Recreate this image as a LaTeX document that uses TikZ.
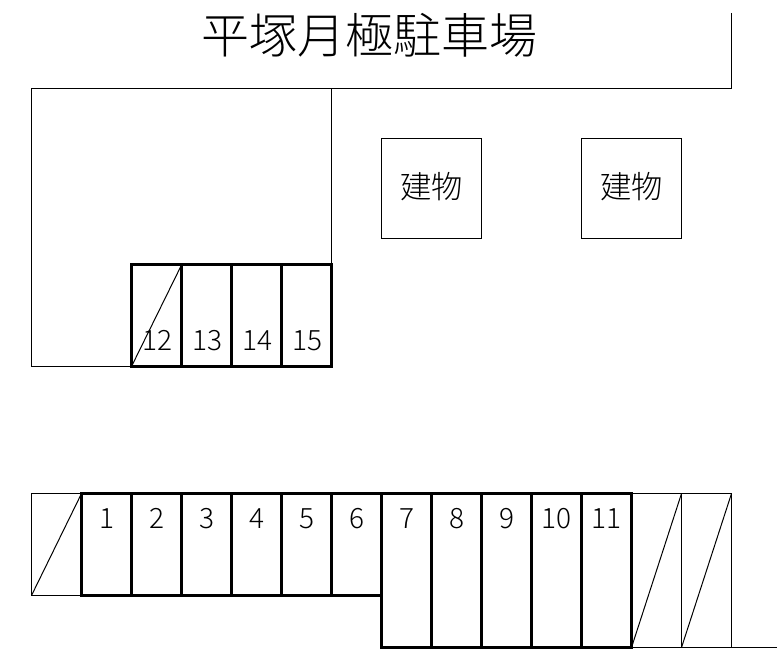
\documentclass[tikz,border=0pt]{standalone}
\usepackage{fontspec}
\setmainfont{Noto Sans CJK JP Light}
\begin{document}
\begin{tikzpicture}[x=0.75pt,y=-0.75pt,
  thin line/.style={draw=black,line width=0.75pt},
  thick line/.style={draw=black,line width=2.4pt},
  num/.style={font=\fontsize{21}{20}\selectfont\color{black},inner sep=0pt,anchor=base},
  bld/.style={font=\fontsize{23.5}{24}\selectfont\color{black},inner sep=0pt}]
\useasboundingbox (0,0) rectangle (777,663);
\fill[white] (0,0) rectangle (777,663);
\node[inner sep=0pt,font=\fontsize{36}{38}\selectfont\color{black}] (title) at (369.5,35) {平塚月極駐車場};
% outlines
\draw[thin line] (731.5,13) -- (731.5,88.5) -- (31.5,88.5) -- (31.5,366.5) -- (131.5,366.5);
\draw[thin line] (331.5,88.5) -- (331.5,264);
\node[thin line,minimum size=75pt,inner sep=0pt] (b1) at (431.5,188.5) {};
\node[thin line,minimum size=75pt,inner sep=0pt] (b2) at (631.5,188.5) {};
\node[bld] at (431.5,187) {建物};
\node[bld] at (631.5,187) {建物};
% upper stalls
\draw[thin line] (131.5,366.5) -- (181.5,265);
\foreach \x/\t in {131.5/12,181.5/13,231.5/14,281.5/15}{
  \draw[thick line] (\x,264.5) rectangle (\x+50,366.5);
  \node[num] at (\x+25.5,350.5) {\t};
}
% lower left
\draw[thin line] (81.5,493.5) -- (31.5,493.5) -- (31.5,595.5) -- (81.5,595.5);
\draw[thin line] (31.5,595.5) -- (81.5,493.5);
% lower stalls
\foreach \x/\t in {81.5/1,131.5/2,181.5/3,231.5/4,281.5/5,331.5/6}{
  \draw[thick line] (\x,493.5) rectangle (\x+50,595.5);
  \node[num] at (\x+25,528.5) {\t};
}
\foreach \x/\t in {381.5/7,431.5/8,481.5/9,531.5/10,581.5/11}{
  \draw[thick line] (\x,493.5) rectangle (\x+50,647.5);
  \node[num] at (\x+25,528.5) {\t};
}
% lower right
\draw[thin line] (631.5,493.5) -- (731.5,493.5) -- (731.5,647.5);
\draw[thin line] (681.5,493.5) -- (681.5,647.5);
\draw[thin line] (631.5,647.5) -- (777,647.5);
\draw[thin line] (631.5,647.5) -- (681.5,493.5);
\draw[thin line] (681.5,647.5) -- (731.5,493.5);
\end{tikzpicture}
\end{document}
